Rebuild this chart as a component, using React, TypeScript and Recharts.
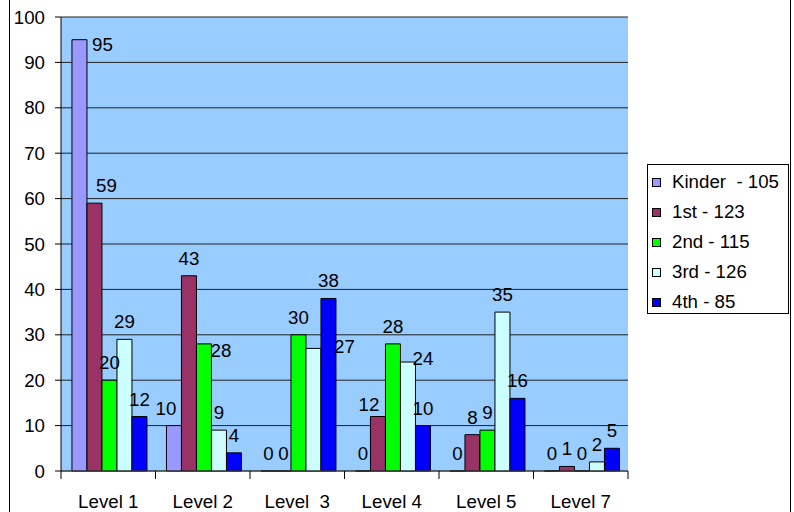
import React from 'react';
import { BarChart, Bar, XAxis, YAxis, CartesianGrid, LabelList } from 'recharts';

const categories = ['Level 1', 'Level 2', 'Level  3', 'Level 4', 'Level 5', 'Level 7'];
const kinder = [95, 10, 0, 0, 0, 0];
const first = [59, 43, 0, 12, 8, 1];
const second = [20, 28, 30, 28, 9, 0];
const third = [29, 9, 27, 24, 35, 2];
const fourth = [12, 4, 38, 10, 16, 5];
const yTicks = [0, 10, 20, 30, 40, 50, 60, 70, 80, 90, 100];

const seriesKeys = ['kinder', 'first', 'second', 'third', 'fourth'];
const seriesNames = ['Kinder  - 105', '1st - 123', '2nd - 115', '3rd - 126', '4th - 85'];
const seriesValues = [kinder, first, second, third, fourth];
const COLORS = ['#9999FF', '#993366', '#00FF00', '#CCFFFF', '#0000FF'];

const FONT = 18.7;
const FAMILY = '"Liberation Sans", Arial, sans-serif';
const TICK_LEN = 8;
const TICK_GAP = 16;

const data = categories.map((level, i) => {
  const row: Record<string, string | number> = { level };
  seriesKeys.forEach((k, s) => {
    row[k] = seriesValues[s][i];
  });
  return row;
});

// a few labels were dragged by hand in the original; [dx, dy] from the usual spot above the bar
const LABEL_NUDGE: Record<string, [number, number]> = {
  'kinder-0': [23, 22],
  'first-0': [12, 0],
  'kinder-1': [-8, 0],
  'second-1': [17, 24],
  'third-2': [31, 16],
  'first-3': [-9, 5],
  'third-3': [15, 14],
};

const barLabel = (key: string) => (props: any) => {
  const vb = props.viewBox && props.viewBox.width != null ? props.viewBox : props;
  const { x, y, width } = vb;
  const [dx, dy] = LABEL_NUDGE[`${key}-${props.index}`] || [0, 0];
  return (
    <text
      x={x + width / 2 + dx}
      y={y - 11 + dy}
      textAnchor="middle"
      fontSize={FONT}
      fill="#000"
    >
      {props.value}
    </text>
  );
};

// zero bars get a hairline height so recharts keeps them (and their "0" label)
const keepZero = (value: any) => (Number(value) === 0 ? 0.001 : 0);

// Excel style: tick marks sit between the categories, not under them
const LevelTick = (props: any) => {
  const { x, y, payload, index, visibleTicksCount } = props;
  const half = payload && payload.offset ? payload.offset : 47.25;
  const top = y - TICK_GAP - TICK_LEN;
  return (
    <g>
      <line x1={x - half} x2={x - half} y1={top} y2={top + TICK_LEN} stroke="#000" />
      {index === visibleTicksCount - 1 && (
        <line x1={x + half} x2={x + half} y1={top} y2={top + TICK_LEN} stroke="#000" />
      )}
      <text
        x={x}
        y={y}
        dy="0.71em"
        textAnchor="middle"
        fontSize={FONT}
        fill="#000"
        style={{ whiteSpace: 'pre' }}
      >
        {payload.value}
      </text>
    </g>
  );
};

export default function App() {
  return (
    <div
      style={{
        position: 'absolute',
        left: 0,
        top: 0,
        width: 794,
        height: 512,
        overflow: 'hidden',
        background: '#fff',
        fontFamily: FAMILY,
      }}
    >
      <div
        style={{
          position: 'absolute',
          left: 9,
          top: -3,
          width: 782,
          height: 520,
          border: '1px solid #000',
          boxSizing: 'border-box',
        }}
      />
      <div style={{ position: 'absolute', left: 0, top: 0 }}>
        <BarChart
          width={794}
          height={512}
          data={data}
          margin={{ top: 17, right: 166, bottom: 0, left: 0 }}
          barGap={0}
          barCategoryGap="11.6%"
        >
          <CartesianGrid vertical={false} stroke="#222" fill="#99CCFF" fillOpacity={1} />
          <XAxis
            dataKey="level"
            height={41}
            tickSize={TICK_LEN}
            tickMargin={TICK_GAP}
            tickLine={false}
            axisLine={{ stroke: '#404040' }}
            tick={<LevelTick />}
            interval={0}
          />
          <XAxis
            xAxisId="top"
            dataKey="level"
            orientation="top"
            height={0}
            tick={false}
            tickLine={false}
            axisLine={{ stroke: '#808080' }}
          />
          <YAxis
            domain={[0, 100]}
            ticks={yTicks}
            interval={0}
            width={61}
            tickSize={6}
            tickMargin={10}
            axisLine={{ stroke: '#000' }}
            tickLine={{ stroke: '#000' }}
            tick={{ fill: '#000', fontSize: FONT }}
          />
          <YAxis
            yAxisId="right"
            orientation="right"
            domain={[0, 100]}
            width={0}
            tick={false}
            tickLine={false}
            axisLine={{ stroke: '#808080' }}
          />
          {seriesKeys.map((k, i) => (
            <Bar
              key={k}
              dataKey={k}
              name={seriesNames[i]}
              fill={COLORS[i]}
              stroke="#000"
              strokeWidth={1}
              minPointSize={keepZero}
              isAnimationActive={false}
            >
              <LabelList dataKey={k} content={barLabel(k)} />
            </Bar>
          ))}
        </BarChart>
      </div>
      <div
        style={{
          position: 'absolute',
          left: 647,
          top: 164,
          width: 142,
          height: 150,
          border: '1px solid #000',
          boxSizing: 'border-box',
          background: '#fff',
          paddingTop: 2,
          paddingLeft: 4,
        }}
      >
        {seriesNames.map((name, i) => (
          <div
            key={name}
            style={{ height: 30, display: 'flex', alignItems: 'center' }}
          >
            <span
              style={{
                width: 9,
                height: 9,
                boxSizing: 'border-box',
                border: '1px solid #000',
                background: COLORS[i],
                marginRight: 11,
                flex: 'none',
              }}
            />
            <span style={{ fontSize: FONT, lineHeight: 1, whiteSpace: 'pre', color: '#000' }}>
              {name}
            </span>
          </div>
        ))}
      </div>
    </div>
  );
}
